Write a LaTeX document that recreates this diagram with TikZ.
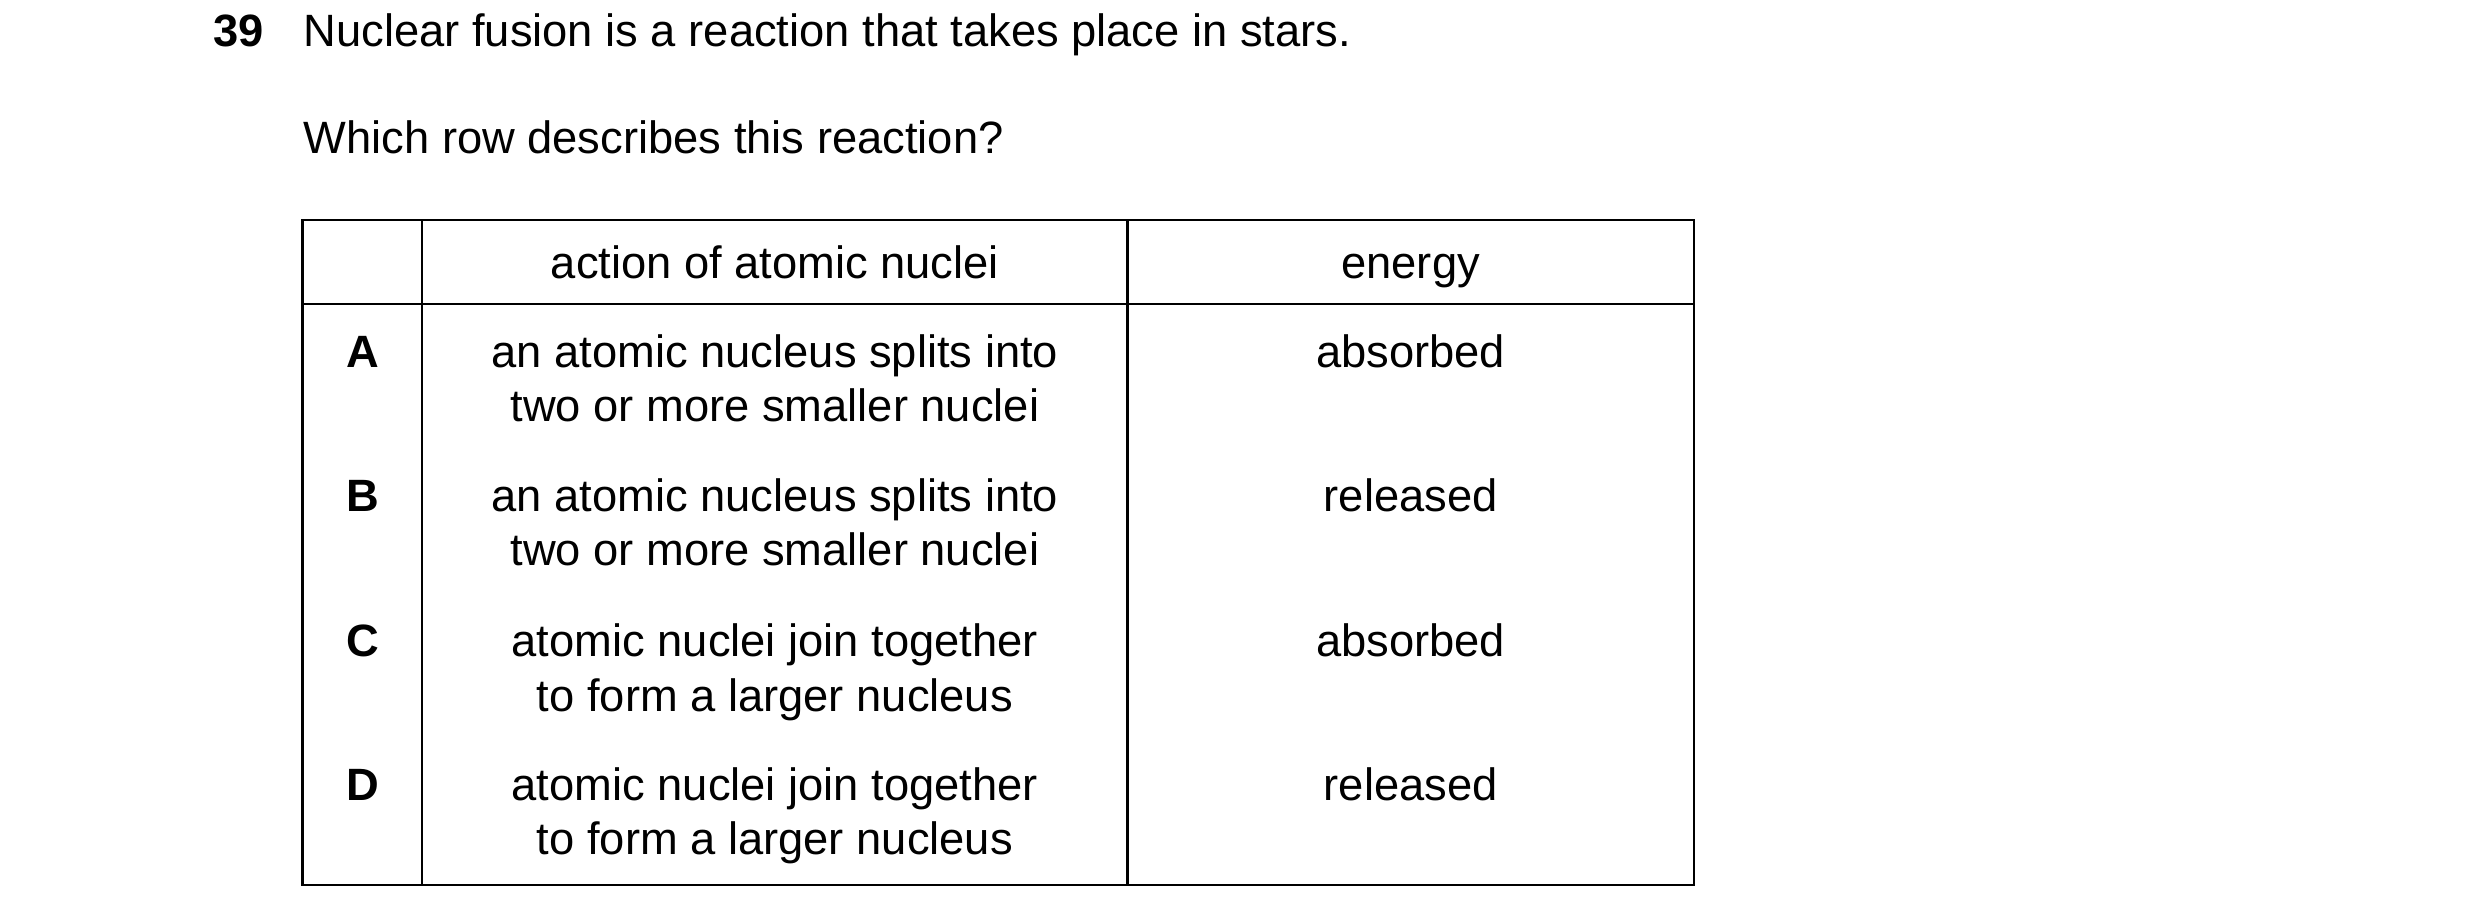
\documentclass[tikz,border=0pt]{standalone}
\usepackage{fontspec}
\setmainfont{Liberation Sans}
\usetikzlibrary{positioning}

\begin{document}
\begin{tikzpicture}[x=1pt, y=-1pt, line width=1.4pt,
  txt/.style={font=\fontsize{28}{33.5}\selectfont, inner sep=0pt, align=center},
  key/.style={txt, font=\fontsize{28}{33.5}\selectfont\bfseries}]
\useasboundingbox (0,0) rectangle (1533,561);
% question
\node[key, anchor=base west] (num) at (131,29) {39};
\node[txt, anchor=base west] (stem) at (187,29) {Nuclear fusion is a reaction that takes place in stars.};
\node[txt, anchor=base west] (ask) at (187,95) {Which row describes this reaction?};
% table frame
\coordinate (tl) at (187,136);
\coordinate (br) at (1047,547);
\draw (tl) rectangle (br);
\draw (187,188) -- (1047,188);
\draw (261,136) -- (261,547);
\draw (697,136) -- (697,547);
% header
\node[txt, anchor=base] (hact) at (479,172) {action of atomic nuclei};
\node[txt, anchor=base] (hen) at (872,172) {energy};
% rows
\foreach \k/\yy/\act/\en in {
  A/227/{an atomic nucleus splits into\\two or more smaller nuclei}/absorbed,
  B/316/{an atomic nucleus splits into\\two or more smaller nuclei}/released,
  C/406/{atomic nuclei join together\\to form a larger nucleus}/absorbed,
  D/495/{atomic nuclei join together\\to form a larger nucleus}/released}{
  \node[key, anchor=base] (key\k) at (224,\yy) {\k};
  \node[txt, anchor=base] (act\k) at (479,\yy+33.5) {\act};
  \node[txt, anchor=base] (en\k) at (872,\yy) {\en};
}
\end{tikzpicture}
\end{document}
